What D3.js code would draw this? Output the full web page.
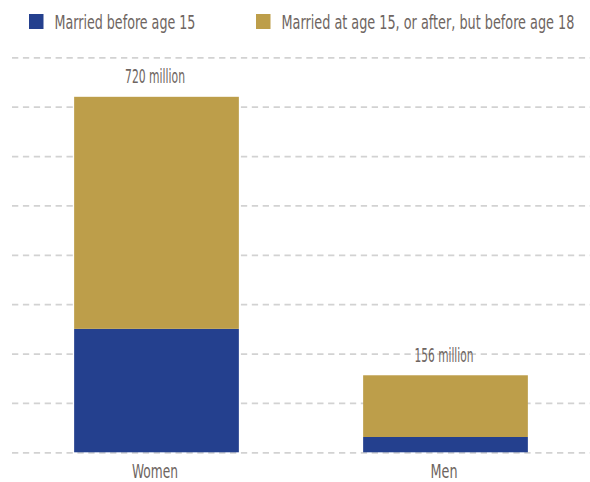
<!DOCTYPE html>
<html>
<head>
<meta charset="utf-8">
<script src="https://cdn.jsdelivr.net/npm/d3@7"></script>
<style>
  body { margin: 0; background: #fff; }
  text { font-family: "DejaVu Sans Condensed", "DejaVu Sans", sans-serif; fill: #6e6561; }
</style>
</head>
<body>
<div id="chart"></div>
<script>
const categories = ["Women", "Men"];
const before15 = [250, 31];          // millions
const from15to18 = [470, 125];       // millions
const totalLabels = ["720 million", "156 million"];
const seriesNames = ["Married before age 15", "Married at age 15, or after, but before age 18"];
const gridTicks = [0, 100, 200, 300, 400, 500, 600, 700, 800];

const width = 590;
const height = 482;
const colors = ["#24408e", "#bd9e4a"];

const svg = d3.select("#chart")
    .append("svg")
    .attr("width", width)
    .attr("height", height);

const xScale = d3.scaleBand()
    .domain(categories)
    .range([12, 590])
    .paddingInner(0.43)
    .paddingOuter(0.215);

const yScale = d3.scaleLinear()
    .domain([0, 800])
    .range([452.3, 57.3]);

// squeeze a text horizontally so it looks like the condensed face of the original
function condense(sel, widths) {
    sel.each(function (d, i) {
        const t = d3.select(this).select("text");
        const natural = t.node().getComputedTextLength();
        const s = widths[i] / natural;
        t.attr("transform", `scale(${s},1)`);
    });
}

// dashed gridlines behind the bars
svg.append("g")
    .attr("class", "gridlines")
    .attr("transform", "translate(12,0)")
    .call(d3.axisLeft(yScale)
        .tickValues(gridTicks)
        .tickFormat("")
        .tickSize(-578))
    .call(g => g.select(".domain").remove())
    .call(g => g.selectAll("line")
        .attr("stroke", "#d2d2d2")
        .attr("stroke-width", 1.7)
        .attr("stroke-dasharray", "6.3 4.6"));

// stack the two series
const rows = categories.map((c, i) => ({ cat: c, a: before15[i], b: from15to18[i] }));
const stack = d3.stack().keys(["a", "b"])(rows);

svg.append("g")
    .selectAll("g")
    .data(stack)
    .join("g")
    .attr("fill", (d, i) => colors[i])
    .selectAll("rect")
    .data(d => d)
    .join("rect")
    .attr("x", d => xScale(d.data.cat))
    .attr("width", xScale.bandwidth())
    .attr("y", d => yScale(d[1]))
    .attr("height", d => yScale(d[0]) - yScale(d[1]));

// total labels above each bar
const labelWidths = [60, 59];
const totals = svg.append("g")
    .selectAll("g")
    .data(rows)
    .join("g")
    .attr("transform", d => `translate(${xScale(d.cat) + xScale.bandwidth() / 2 - 1.5},${yScale(d.a + d.b) - 13.5})`);
totals.append("text")
    .attr("text-anchor", "middle")
    .attr("font-size", 19)
    .text((d, i) => totalLabels[i]);
condense(totals, labelWidths);

// category axis
const catWidths = [46, 27];
const cats = svg.append("g")
    .selectAll("g")
    .data(categories)
    .join("g")
    .attr("transform", d => `translate(${xScale(d) + xScale.bandwidth() / 2 - 1.5},477.5)`);
cats.append("text")
    .attr("text-anchor", "middle")
    .attr("font-size", 20)
    .text(d => d);
condense(cats, catWidths);

// legend
const legendX = [29, 256];
const legendTextWidths = [141, 293];
const legend = svg.append("g")
    .selectAll("g")
    .data(seriesNames)
    .join("g")
    .attr("transform", (d, i) => `translate(${legendX[i]},0)`);

legend.append("rect")
    .attr("x", 0)
    .attr("y", 14)
    .attr("width", 14.5)
    .attr("height", 15)
    .attr("fill", (d, i) => colors[i]);

const legendText = legend.append("g")
    .attr("transform", "translate(25.5,29)");
legendText.append("text")
    .attr("font-size", 20)
    .text(d => d);
condense(legendText, legendTextWidths);
</script>
</body>
</html>
